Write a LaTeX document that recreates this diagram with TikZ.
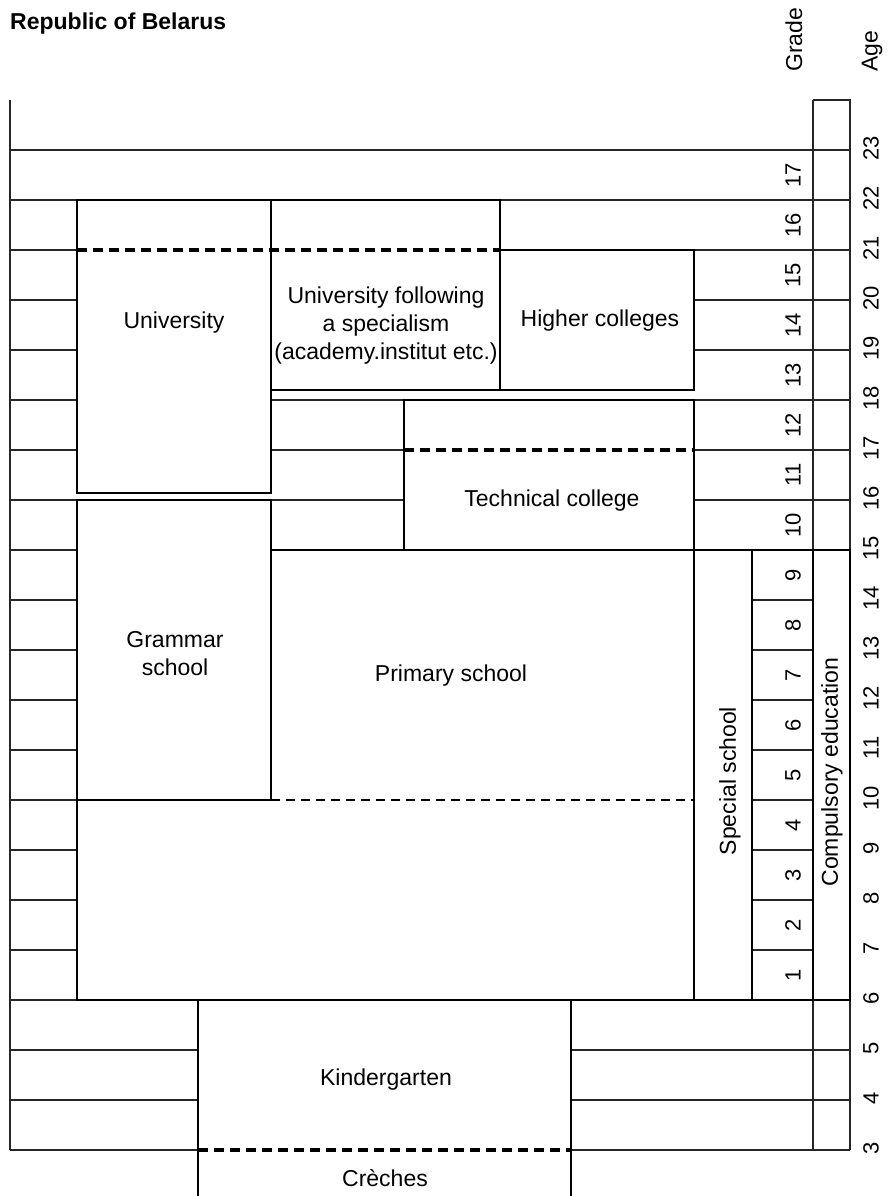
\documentclass[tikz,border=0pt]{standalone}
\usepackage{fontspec}
\setmainfont{Liberation Sans}
\usepackage{tikz}
\usetikzlibrary{positioning}

\begin{document}
\begin{tikzpicture}[
  x=1pt, y=-1pt,
  rowline/.style={line width=1.8pt, black!85},
  box/.style={rectangle, draw, line width=2.8pt, inner sep=0pt, outer sep=0pt},
  dashline/.style={line width=3.2pt, dash pattern=on 10pt off 6pt},
  thindash/.style={line width=2.2pt, dash pattern=on 9pt off 6pt},
  txt/.style={font=\fontsize{23}{28}\selectfont, align=center, inner sep=0pt},
  vtxt/.style={txt, rotate=90},
  num/.style={font=\fontsize{22}{26}\selectfont, rotate=90, inner sep=0pt},
]
\useasboundingbox (0,0) rectangle (887,1196);

% Title and headers
\node[anchor=base west, inner sep=0pt, font=\fontsize{23}{28}\selectfont\bfseries]
  (title) at (10,30) {Republic of Belarus};
\node[vtxt, anchor=west] (gradehead) at (794,72) {Grade};
\node[vtxt, anchor=west] (agehead)   at (872,72) {Age};

% Row lines
\draw[rowline] (10,100) -- (10,1150);
\draw[rowline] (813,100) -- (850,100) -- (850,1150);
\draw[rowline] (813,100) -- (813,1150);
\draw[rowline] (10,150) -- (850,150);
\draw[rowline] (10,200) -- (850,200);
\draw[rowline] (500,250) -- (850,250);
\foreach \a in {7,...,21}
  \draw[rowline] (10,{1300-50*\a}) -- (77,{1300-50*\a});
\foreach \a in {19,20}
  \draw[rowline] (694,{1300-50*\a}) -- (850,{1300-50*\a});
\draw[rowline] (271,400) -- (850,400);
\foreach \a in {16,17} {
  \draw[rowline] (271,{1300-50*\a}) -- (404,{1300-50*\a});
  \draw[rowline] (694,{1300-50*\a}) -- (850,{1300-50*\a});
}
\foreach \a in {7,...,14}
  \draw[rowline] (752,{1300-50*\a}) -- (813,{1300-50*\a});
\draw[rowline] (10,1000) -- (850,1000);
\foreach \a in {3,4,5} {
  \draw[rowline] (10,{1300-50*\a}) -- (198,{1300-50*\a});
  \draw[rowline] (571,{1300-50*\a}) -- (850,{1300-50*\a});
}

% Higher education
\node[box, minimum width=194, minimum height=293] (univ)   at (174,346.5) {};
\node[box, minimum width=229, minimum height=190] (spec)   at (385.5,295) {};
\node[box, minimum width=194, minimum height=140] (higher) at (597,320) {};
\draw[dashline] (77,250) -- (500,250);

% Secondary
\node[box, minimum width=290, minimum height=150] (tech)    at (549,475) {};
\draw[dashline] (404,450) -- (694,450);
\node[box, minimum width=194, minimum height=300] (grammar) at (174,650) {};
\draw[box] (271,550) -- (694,550) -- (694,1000) -- (77,1000) -- (77,800) -- (271,800);
\draw[thindash] (271,800) -- (694,800);
\node[box, minimum width=58, minimum height=450]  (special) at (723,775) {};
\node[box, line width=1.8pt, minimum width=61, minimum height=450] (gradecol) at (782.5,775) {};
\node[box, minimum width=37, minimum height=450]  (compul)  at (831.5,775) {};

% Pre-school
\draw[box] (198,1196) -- (198,1000) -- (571,1000) -- (571,1196);
\draw[dashline] (198,1150) -- (571,1150);

% Texts
\node[txt] (univtxt)    at (174,323)   {University};
\node[txt] (spectxt)    at (386,326)   {University following\\a specialism\\(academy.institut etc.)};
\node[txt] (highertxt)  at (600,321)   {Higher colleges};
\node[txt] (techtxt)    at (552,501)   {Technical college};
\node[txt] (grammartxt) at (175,654)   {Grammar\\school};
\node[txt] (primarytxt) at (451,676)   {Primary school};
\node[vtxt] (specialtxt) at (730,781)  {Special school};
\node[vtxt] (compultxt)  at (832,772)  {Compulsory education};
\node[txt] (kindertxt)  at (386,1080)  {Kindergarten};
\node[txt] (crechetxt)  at (385,1178)  {Crèches};

% Grades and ages
\foreach \g in {1,...,17}
  \node[num] (grade\g) at (793,{1025-50*\g}) {\g};
\foreach \a in {3,...,23}
  \node[num] (age\a) at (871,{1300-50*\a-2}) {\a};

\end{tikzpicture}
\end{document}
